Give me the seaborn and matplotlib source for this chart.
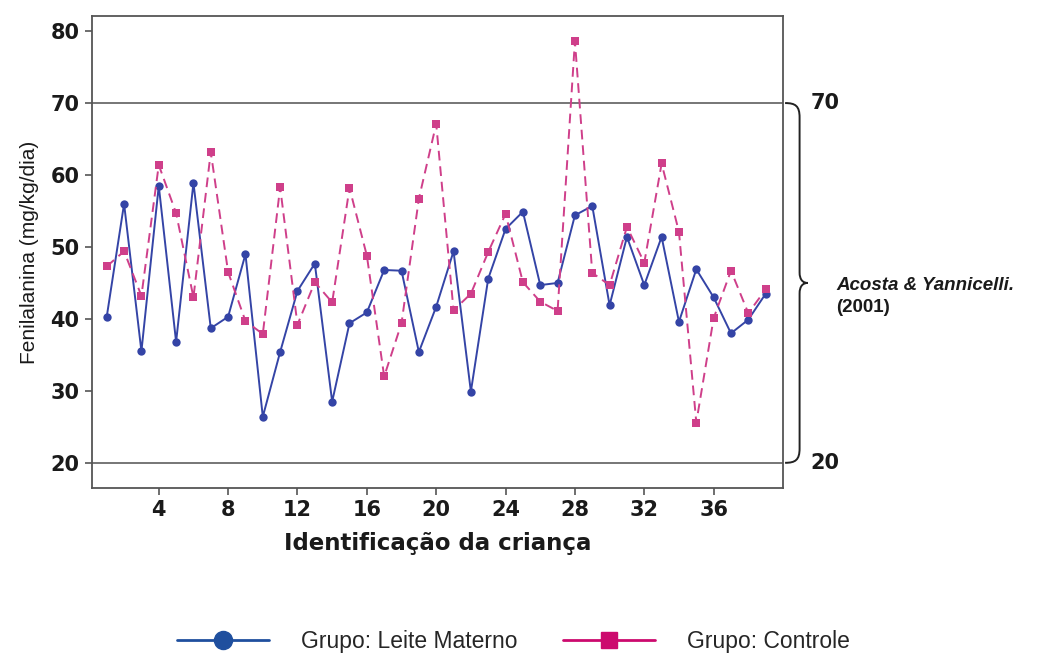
import numpy as np
import pandas as pd
import matplotlib
matplotlib.use("Agg")
import matplotlib.pyplot as plt
import seaborn as sns
from matplotlib.path import Path
from matplotlib.patches import PathPatch
from matplotlib.lines import Line2D
import matplotlib.transforms as mtransforms

# ---- data -----------------------------------------------------------------
criancas = list(range(1, 40))
leite_materno = [40.3, 56.0, 35.5, 58.5, 36.8, 58.9, 38.7, 40.3, 49.0, 26.4,
                 35.4, 43.9, 47.7, 28.5, 39.4, 40.9, 46.8, 46.7, 35.4, 41.7,
                 49.4, 29.9, 45.6, 52.5, 54.9, 44.7, 45.0, 54.4, 55.7, 41.9,
                 51.4, 44.7, 51.4, 39.6, 46.9, 43.0, 38.0, 39.9, 43.5]
controle = [47.3, 49.4, 43.2, 61.4, 54.7, 43.0, 63.2, 46.5, 39.7, 37.9,
            58.3, 39.2, 45.1, 42.3, 58.2, 48.8, 32.0, 39.4, 56.7, 67.1,
            41.2, 43.5, 49.3, 54.6, 45.1, 42.4, 41.1, 78.6, 46.4, 44.7,
            52.8, 47.8, 61.6, 52.1, 25.6, 40.1, 46.7, 40.8, 44.1]
grupos = ["Grupo: Leite Materno", "Grupo: Controle"]
x_ticks = [4, 8, 12, 16, 20, 24, 28, 32, 36]
y_ticks = [20, 30, 40, 50, 60, 70, 80]
ref_limits = [70, 20]
ref_label = "Acosta & Yannicelli."
ref_year = "(2001)"

df = pd.DataFrame({
    "crianca": criancas * 2,
    "valor": leite_materno + controle,
    "grupo": [grupos[0]] * len(criancas) + [grupos[1]] * len(criancas),
})

# ---- style ----------------------------------------------------------------
sns.set_style("ticks")
plt.rcParams["font.family"] = ["DejaVu Sans"]

blue = "#3444a6"
pink = "#cf3f8a"

fig = plt.figure(figsize=(10.48, 6.55), dpi=100)
ax = fig.add_axes([92 / 1048, 1 - 488 / 655, (783 - 92) / 1048, (488 - 16) / 655])

sns.lineplot(data=df, x="crianca", y="valor", hue="grupo", style="grupo",
             palette={grupos[0]: blue, grupos[1]: pink},
             markers={grupos[0]: "o", grupos[1]: "s"},
             dashes={grupos[0]: "", grupos[1]: (5, 3)},
             markersize=6, linewidth=1.4, markeredgewidth=0,
             legend=False, ax=ax)

for v in ref_limits:
    ax.axhline(v, color="#6b6b6b", lw=1.3, zorder=0)

ax.set_xlim(0.15, 40.0)
ax.set_ylim(16.5, 82.1)
ax.set_xticks(x_ticks)
ax.set_yticks(y_ticks)
ax.tick_params(axis="both", length=5, width=1.2, color="#555555", pad=4,
               labelsize=15)
for lab in ax.get_xticklabels() + ax.get_yticklabels():
    lab.set_fontweight("bold")
    lab.set_color("#1a1a1a")
for s in ax.spines.values():
    s.set_visible(True)
    s.set_color("#555555")
    s.set_linewidth(1.3)

ax.set_xlabel("Identificação da criança", fontsize=16.5, fontweight="bold",
              color="#1a1a1a", labelpad=8)
ax.set_ylabel("Fenilalanina (mg/kg/dia)", fontsize=15,
              family=["Liberation Sans", "DejaVu Sans"], color="#1a1a1a",
              labelpad=8)

# ---- brace on the right ---------------------------------------------------
trans = mtransforms.blended_transform_factory(ax.transAxes, ax.transData)
top, bot = max(ref_limits), min(ref_limits)
mid = (top + bot) / 2
x0, x1, x2 = 1.003, 1.024, 1.036
verts = [(x0, top), (1.018, top), (x1, top - 0.4), (x1, top - 2.0),
         (x1, mid + 1.5),
         (x1, mid + 0.4), (1.029, mid), (x2, mid),
         (1.029, mid), (x1, mid - 0.4), (x1, mid - 1.5),
         (x1, bot + 2.0),
         (x1, bot + 0.4), (1.018, bot), (x0, bot)]
codes = [Path.MOVETO, Path.CURVE4, Path.CURVE4, Path.CURVE4,
         Path.LINETO,
         Path.CURVE4, Path.CURVE4, Path.CURVE4,
         Path.CURVE4, Path.CURVE4, Path.CURVE4,
         Path.LINETO,
         Path.CURVE4, Path.CURVE4, Path.CURVE4]
ax.add_patch(PathPatch(Path(verts, codes), transform=trans, fill=False,
                       lw=1.4, color="#222222", clip_on=False))
for v in ref_limits:
    ax.text(1.04, v, str(v), transform=trans, ha="left", va="center",
            fontsize=15, fontweight="bold", color="#1a1a1a")
ax.text(1.077, mid - 0.4, ref_label, transform=trans, ha="left",
        va="center", fontsize=13.5, fontweight="bold", style="italic",
        family=["Liberation Sans", "DejaVu Sans"], color="#1a1a1a")
ax.text(1.077, mid - 3.4, ref_year, transform=trans, ha="left",
        va="center", fontsize=13.5, fontweight="bold",
        family=["Liberation Sans", "DejaVu Sans"], color="#1a1a1a")

# ---- legend ---------------------------------------------------------------
handles = [Line2D([], [], color="#1f4f9e", lw=2, marker="o", markersize=13),
           Line2D([], [], color="#cc0a6e", lw=2, marker="s", markersize=12)]
fig.legend(handles, grupos, loc="center", bbox_to_anchor=(0.49, 0.02),
           ncol=2, frameon=False, handlelength=4.0, handletextpad=1.4,
           columnspacing=2.0,
           prop={"family": ["Liberation Sans", "DejaVu Sans"], "size": 16.5})

fig.savefig("out.png", dpi=100)
